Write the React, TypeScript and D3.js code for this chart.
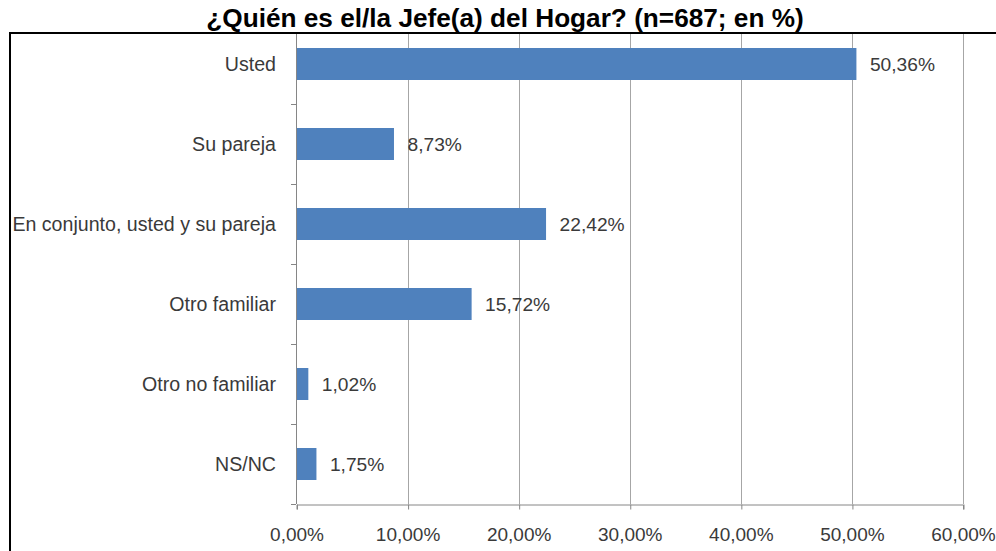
import React, { useRef, useEffect } from "react";
import * as d3 from "d3";

const categories = [
  "Usted",
  "Su pareja",
  "En conjunto, usted y su pareja",
  "Otro familiar",
  "Otro no familiar",
  "NS/NC",
];
const values = [50.36, 8.73, 22.42, 15.72, 1.02, 1.75];
const xTicks = [0, 10, 20, 30, 40, 50, 60];
const title = "¿Quién es el/la Jefe(a) del Hogar? (n=687; en %)";

const width = 996;
const height = 551;
const FONT = "'Liberation Sans', Arial, sans-serif";

const locale = d3.formatLocale({
  decimal: ",",
  thousands: ".",
  grouping: [3],
  currency: ["", ""],
});
const fmt = locale.format(".2f");

const App = () => {
  const svgRef = useRef<SVGSVGElement | null>(null);

  useEffect(() => {
    if (!svgRef.current) return;
    const svg = d3.select(svgRef.current);
    svg.selectAll("*").remove();

    const plotTop = 33;
    const x = d3.scaleLinear().domain([0, 60]).range([296.5, 963]);
    const y = d3
      .scaleBand()
      .domain(categories)
      .range([24, 504])
      .paddingInner(0.6)
      .paddingOuter(0.3);
    const step = y.step();
    const bottom = 504;

    // frame (cropped chart border: left and top)
    svg
      .append("line")
      .attr("x1", 10)
      .attr("x2", 10)
      .attr("y1", 32)
      .attr("y2", height)
      .attr("stroke", "#000")
      .attr("stroke-width", 2);
    svg
      .append("line")
      .attr("x1", 9)
      .attr("x2", width)
      .attr("y1", 33)
      .attr("y2", 33)
      .attr("stroke", "#000")
      .attr("stroke-width", 2);

    // title
    svg
      .append("text")
      .attr("x", 505)
      .attr("y", 27)
      .attr("text-anchor", "middle")
      .style("font-family", FONT)
      .style("font-weight", "bold")
      .style("font-size", "26.2px")
      .attr("fill", "#000")
      .text(title);

    // vertical gridlines
    svg
      .append("g")
      .selectAll("line")
      .data(xTicks.slice(1))
      .enter()
      .append("line")
      .attr("x1", (d) => Math.round(x(d)) + 0.5)
      .attr("x2", (d) => Math.round(x(d)) + 0.5)
      .attr("y1", plotTop + 1)
      .attr("y2", bottom)
      .attr("stroke", "#a6a6a6")
      .attr("stroke-width", 1);

    // x axis
    const xAxis = svg
      .append("g")
      .attr("transform", `translate(0,${bottom + 0.5})`)
      .call(
        d3
          .axisBottom(x)
          .tickValues(xTicks)
          .tickSize(5)
          .tickPadding(18)
          .tickFormat((d) => fmt(d as number) + "%")
      );
    xAxis.select(".domain").attr("stroke", "#868686");
    xAxis
      .selectAll(".tick line")
      .attr("stroke", "#868686")
      .attr("transform", "translate(0.5,0)");
    xAxis
      .selectAll(".tick text")
      .style("font-family", FONT)
      .style("font-size", "19px")
      .attr("fill", "#3a3a3a");

    // y axis line + category ticks
    svg
      .append("line")
      .attr("x1", 296.5)
      .attr("x2", 296.5)
      .attr("y1", plotTop + 1)
      .attr("y2", bottom)
      .attr("stroke", "#868686");
    svg
      .append("g")
      .selectAll("line")
      .data(categories)
      .enter()
      .append("line")
      .attr("x1", 291)
      .attr("x2", 296)
      .attr("y1", (d) => (y(d) as number) - step * 0.3 + step + 0.5)
      .attr("y2", (d) => (y(d) as number) - step * 0.3 + step + 0.5)
      .attr("stroke", "#868686");

    // category labels
    svg
      .append("g")
      .selectAll("text")
      .data(categories)
      .enter()
      .append("text")
      .attr("x", 276)
      .attr("y", (d) => (y(d) as number) + y.bandwidth() / 2 + 7)
      .attr("text-anchor", "end")
      .style("font-family", FONT)
      .style("font-size", "19.6px")
      .attr("fill", "#3a3a3a")
      .text((d) => d);

    // bars
    svg
      .append("g")
      .selectAll("rect")
      .data(values)
      .enter()
      .append("rect")
      .attr("x", x(0) + 0.5)
      .attr("y", (d, i) => y(categories[i]) as number)
      .attr("width", (d) => x(d) - x(0))
      .attr("height", y.bandwidth())
      .attr("fill", "#4f81bd");

    // value labels
    svg
      .append("g")
      .selectAll("text")
      .data(values)
      .enter()
      .append("text")
      .attr("x", (d) => x(d) + 14)
      .attr("y", (d, i) => (y(categories[i]) as number) + y.bandwidth() / 2 + 7)
      .style("font-family", FONT)
      .style("font-size", "19.2px")
      .attr("fill", "#3a3a3a")
      .text((d) => fmt(d) + "%");
  }, []);

  return (
    <svg
      ref={svgRef}
      width={width}
      height={height}
      style={{ position: "absolute", left: 0, top: 0, background: "#fff" }}
    />
  );
};

export default App;
